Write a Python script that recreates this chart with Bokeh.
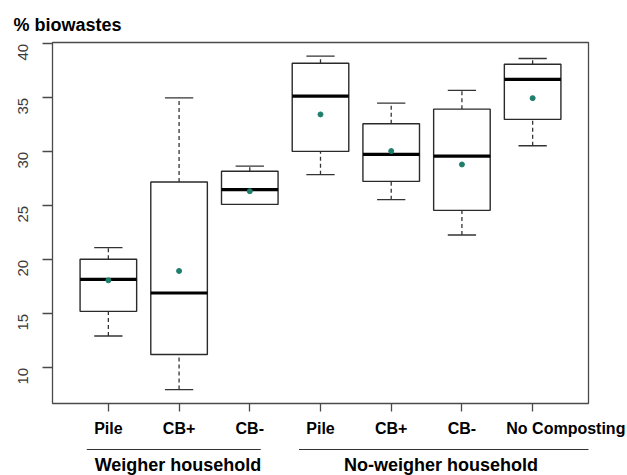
from bokeh.plotting import figure
from bokeh.layouts import column
from bokeh.models import FixedTicker, Range1d
from bokeh.embed import file_html
from bokeh.resources import INLINE
from bokeh.core.properties import value

# ---- data ----
categories = ["Pile", "CB+", "CB-", "Pile", "CB+", "CB-", "No Composting"]
groups = ["Weigher household", "No-weigher household"]
lower = [12.95, 7.99, 25.13, 27.88, 25.57, 22.30, 30.56]
q1 = [15.23, 11.23, 25.13, 30.04, 27.26, 24.58, 33.00]
median = [18.20, 16.93, 26.50, 35.15, 29.76, 29.60, 36.70]
q3 = [20.05, 27.20, 28.20, 38.20, 32.60, 33.95, 38.11]
upper = [21.13, 35.00, 28.68, 38.85, 34.50, 35.68, 38.64]
mean = [18.10, 18.97, 26.35, 33.46, 30.07, 28.83, 34.97]
y_ticks = [10, 15, 20, 25, 30, 35, 40]
y_label = "% biowastes"

xs = list(range(1, len(categories) + 1))
half = 0.4
cap = 0.2
# label positions (the last label sits right of its tick in the reference)
label_pos = xs[:-1] + [7.47]
# group brackets: x extents and text centres, in axis units
bracket_spans = [(0.695, 3.155), (3.696, 7.796)]
bracket_centers = [1.985, 5.704]

p = figure(width=627, height=440, output_backend="svg", toolbar_location=None,
           x_range=Range1d(0.21, 7.79), y_range=Range1d(6.70, 40.12),
           min_border_left=52, min_border_right=39, min_border_top=42,
           min_border_bottom=37)
p.background_fill_color = "white"
p.border_fill_color = "white"
p.xgrid.visible = False
p.ygrid.visible = False
p.outline_line_color = "#4a4a4a"
p.outline_line_width = 1.3

p.title.text = y_label
p.title.align = "left"
p.title.offset = -39
p.title.text_font = "Liberation Sans"
p.title.text_font_style = "bold"
p.title.text_font_size = "18px"
p.title.text_color = "black"
p.title.standoff = 15

# whiskers
p.segment(xs, q3, xs, upper, line_color="#333333", line_width=1.3, line_dash="4 3")
p.segment(xs, lower, xs, q1, line_color="#333333", line_width=1.3, line_dash="4 3")
p.segment([x - cap for x in xs], upper, [x + cap for x in xs], upper,
          line_color="#333333", line_width=1.3)
p.segment([x - cap for x in xs], lower, [x + cap for x in xs], lower,
          line_color="#333333", line_width=1.3)
# boxes
p.quad(left=[x - half for x in xs], right=[x + half for x in xs], bottom=q1, top=q3,
       fill_color="white", line_color="#2a2a2a", line_width=1.4)
# medians
p.segment([x - half for x in xs], median, [x + half for x in xs], median,
          line_color="black", line_width=3.2)
# means
p.scatter(xs, mean, size=5, fill_color="#1f7f6c", line_color="#1f7f6c")

# x axis: minor ticks mark the boxes, major (invisible) ticks carry the labels
xa = p.xaxis[0]
xa.ticker = FixedTicker(ticks=label_pos, minor_ticks=xs)
xa.major_label_overrides = {lp: c for lp, c in zip(label_pos, categories)}
xa.axis_line_color = None
xa.major_tick_line_color = None
xa.major_tick_out = 8
xa.major_tick_in = 0
xa.minor_tick_line_color = "#4a4a4a"
xa.minor_tick_line_width = 1.3
xa.minor_tick_out = 8
xa.minor_tick_in = 0
xa.major_label_text_font = "Liberation Sans"
xa.major_label_text_font_style = "bold"
xa.major_label_text_font_size = "16px"
xa.major_label_text_color = "black"
xa.major_label_standoff = 8

ya = p.yaxis[0]
ya.ticker = FixedTicker(ticks=y_ticks)
ya.axis_line_color = None
ya.major_tick_line_color = "#4a4a4a"
ya.major_tick_line_width = 1.3
ya.major_tick_out = 10
ya.major_tick_in = 0
ya.minor_tick_line_color = None
ya.major_label_orientation = 3.14159265 / 2
ya.major_label_text_font = "Liberation Sans"
ya.major_label_text_font_size = "15px"
ya.major_label_text_color = "#3a3a3a"
ya.major_label_standoff = 19

# ---- group brackets strip under the axis ----
g = figure(width=627, height=35, output_backend="svg", toolbar_location=None,
           x_range=p.x_range, y_range=Range1d(0, 35),
           x_axis_type=None, y_axis_type=None,
           min_border_left=52, min_border_right=39, min_border_top=0,
           min_border_bottom=0)
g.xgrid.visible = False
g.ygrid.visible = False
g.outline_line_color = None
g.background_fill_color = "white"
g.border_fill_color = "white"
g.segment([s[0] for s in bracket_spans], [26, 26], [s[1] for s in bracket_spans], [26, 26],
          line_color="#333333", line_width=1.2)
g.text(bracket_centers, [10.5, 10.5], text=groups, text_align="center",
       text_baseline="alphabetic", text_font=value("Liberation Sans"),
       text_font_style="bold", text_font_size="18px", text_color="black")

layout = column(p, g, spacing=0)
open("out.html", "w").write(file_html(layout, INLINE))
